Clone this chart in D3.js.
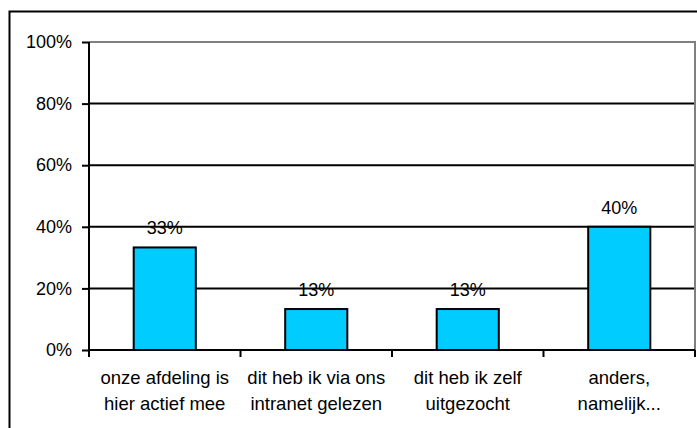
<!DOCTYPE html>
<html>
<head>
<meta charset="utf-8">
<script src="https://cdn.jsdelivr.net/npm/d3@7"></script>
<style>
  html, body { margin: 0; padding: 0; background: #fff; }
  svg { display: block; font-family: "Liberation Sans", Arial, sans-serif; }
</style>
</head>
<body>
<svg id="chart" width="697" height="428"></svg>
<script>
const categories = [
  ["onze afdeling is", "hier actief mee"],
  ["dit heb ik via ons", "intranet gelezen"],
  ["dit heb ik zelf", "uitgezocht"],
  ["anders,", "namelijk..."]
];
const values = [0.333, 0.133, 0.133, 0.40];
const valueLabels = ["33%", "13%", "13%", "40%"];
const yTicks = [0, 0.2, 0.4, 0.6, 0.8, 1.0];

const svg = d3.select("#chart");
const plotLeft = 89, plotRight = 695, plotTop = 42, plotBottom = 350;

// outer chart border (extends past right/bottom edge)
svg.append("rect")
  .attr("x", 9.5).attr("y", 11.5)
  .attr("width", 720).attr("height", 440)
  .attr("fill", "#fff").attr("stroke", "#000").attr("stroke-width", 2);

const idx = categories.map((d, i) => i);
const x = d3.scaleBand().domain(idx).range([plotLeft, plotRight])
  .paddingInner(0.59).paddingOuter(0.295);
const xb = d3.scaleBand().domain(idx).range([plotLeft, plotRight]).padding(0);
const y = d3.scaleLinear().domain([0, 1]).range([plotBottom, plotTop]);

// gridlines
svg.append("g").selectAll("line")
  .data(yTicks.filter(t => t > 0 && t < 1))
  .join("line")
  .attr("x1", plotLeft).attr("x2", plotRight)
  .attr("y1", d => y(d)).attr("y2", d => y(d))
  .attr("stroke", "#000").attr("stroke-width", 2);

// plot area border (gray top & right)
svg.append("path")
  .attr("d", `M${plotLeft},${y(1)}H${plotRight}V${plotBottom}`)
  .attr("fill", "none").attr("stroke", "#808080").attr("stroke-width", 2);

// bars
svg.append("g").selectAll("rect")
  .data(values)
  .join("rect")
  .attr("x", (d, i) => x(i))
  .attr("y", d => y(d))
  .attr("width", x.bandwidth())
  .attr("height", d => y(0) - y(d))
  .attr("fill", "#00CCFF")
  .attr("stroke", "#000").attr("stroke-width", 2);

// value labels
svg.append("g").selectAll("text")
  .data(values)
  .join("text")
  .attr("x", (d, i) => x(i) + x.bandwidth() / 2)
  .attr("y", d => y(d) - 13)
  .attr("text-anchor", "middle")
  .attr("font-size", 18)
  .attr("fill", "#000")
  .text((d, i) => valueLabels[i]);

// y axis
const yAxis = d3.axisLeft(y).tickValues(yTicks).tickFormat(d3.format(".0%"))
  .tickSize(7).tickPadding(10);
const gy = svg.append("g").attr("transform", `translate(${plotLeft},0)`).call(yAxis);
gy.select(".domain").attr("stroke", "#000").attr("stroke-width", 2)
  .attr("d", `M0,${y(1)}V${plotBottom}`);
gy.selectAll(".tick line").attr("stroke", "#000").attr("stroke-width", 2);
gy.selectAll(".tick text").attr("font-size", 18).attr("fill", "#000")
  .attr("font-family", "Liberation Sans, Arial, sans-serif");

// x axis line
svg.append("line")
  .attr("x1", plotLeft - 1).attr("x2", plotRight)
  .attr("y1", plotBottom).attr("y2", plotBottom)
  .attr("stroke", "#000").attr("stroke-width", 2);

// x ticks at category boundaries
const bounds = idx.map(i => xb(i)).concat([xb(idx.length - 1) + xb.bandwidth()]);
svg.append("g").selectAll("line")
  .data(bounds)
  .join("line")
  .attr("x1", d => d).attr("x2", d => d)
  .attr("y1", plotBottom).attr("y2", plotBottom + 7)
  .attr("stroke", "#000").attr("stroke-width", 2);

// category labels
const cl = svg.append("g").selectAll("text")
  .data(categories)
  .join("text")
  .attr("text-anchor", "middle")
  .attr("font-size", 18.5)
  .attr("fill", "#000");
cl.selectAll("tspan")
  .data((d, i) => d.map(s => ({ s, i })))
  .join("tspan")
  .attr("x", d => xb(d.i) + xb.bandwidth() / 2)
  .attr("y", (d, j) => 384 + j * 25.7)
  .text(d => d.s);
</script>
</body>
</html>
